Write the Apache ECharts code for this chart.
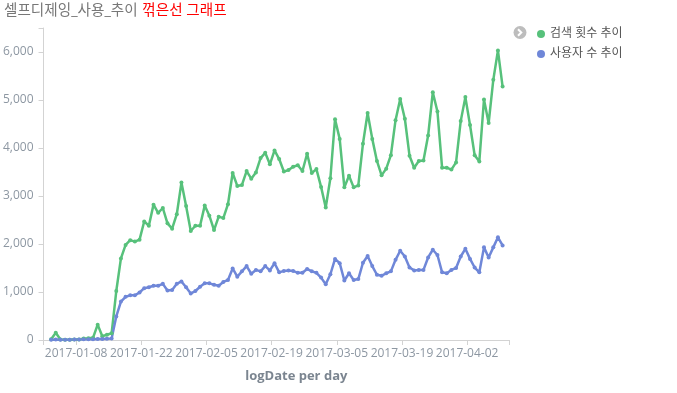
<!DOCTYPE html>
<html>
<head>
<meta charset="utf-8">
<script src="https://cdn.jsdelivr.net/npm/echarts@6/dist/echarts.min.js"></script>
<style>
html,body{margin:0;padding:0;background:#fff;}
#chart{width:677px;height:393px;}
</style>
</head>
<body>
<div id="chart"></div>
<script>
const FONT = '"Open Sans", "Noto Sans CJK KR", sans-serif';

const titleMain = '셀프디제잉_사용_추이';
const titleSub = '꺾은선 그래프';
const xAxisName = 'logDate per day';
const seriesNames = ['검색 횟수 추이', '사용자 수 추이'];
const seriesColors = ['#57c17b', '#6f87d8'];

const dates = [
  '2017-01-03','2017-01-04','2017-01-05','2017-01-06','2017-01-07','2017-01-08','2017-01-09','2017-01-10',
  '2017-01-11','2017-01-12','2017-01-13','2017-01-14','2017-01-15','2017-01-16','2017-01-17','2017-01-18',
  '2017-01-19','2017-01-20','2017-01-21','2017-01-22','2017-01-23','2017-01-24','2017-01-25','2017-01-26',
  '2017-01-27','2017-01-28','2017-01-29','2017-01-30','2017-01-31',
  '2017-02-01','2017-02-02','2017-02-03','2017-02-04','2017-02-05','2017-02-06','2017-02-07','2017-02-08',
  '2017-02-09','2017-02-10','2017-02-11','2017-02-12','2017-02-13','2017-02-14','2017-02-15','2017-02-16',
  '2017-02-17','2017-02-18','2017-02-19','2017-02-20','2017-02-21','2017-02-22','2017-02-23','2017-02-24',
  '2017-02-25','2017-02-26','2017-02-27','2017-02-28',
  '2017-03-01','2017-03-02','2017-03-03','2017-03-04','2017-03-05','2017-03-06','2017-03-07','2017-03-08',
  '2017-03-09','2017-03-10','2017-03-11','2017-03-12','2017-03-13','2017-03-14','2017-03-15','2017-03-16',
  '2017-03-17','2017-03-18','2017-03-19','2017-03-20','2017-03-21','2017-03-22','2017-03-23','2017-03-24',
  '2017-03-25','2017-03-26','2017-03-27','2017-03-28','2017-03-29','2017-03-30','2017-03-31',
  '2017-04-01','2017-04-02','2017-04-03','2017-04-04','2017-04-05','2017-04-06','2017-04-07','2017-04-08',
  '2017-04-09','2017-04-10'
];

const searchCounts = [
  15,150,10,5,5,10,10,30,35,45,320,80,110,140,
  1020,1700,1980,2080,2050,2090,2470,2380,2820,2650,2750,2430,2320,2620,3280,2790,2270,2380,2380,
  2800,2590,2290,2570,2540,2830,3480,3210,3230,3520,3360,3490,3790,3900,3660,3950,3770,3510,3540,
  3610,3640,3520,3880,3480,3560,3190,2760,3370,4600,4190,3180,3420,3180,3220,4090,4730,4190,3730,
  3430,3570,3850,4580,5020,4610,3840,3590,3730,3740,4260,5160,4760,3590,3590,3550,3700,4560,5060,
  4480,3850,3720,5010,4520,5420,6030,5280
];

const userCounts = [
  5,10,5,5,5,10,10,15,15,15,20,20,25,30,
  490,800,900,930,930,990,1080,1100,1130,1130,1170,1030,1040,1170,1220,1100,970,1020,1110,
  1180,1180,1150,1130,1210,1250,1490,1320,1430,1540,1380,1460,1430,1540,1450,1600,1410,1440,1450,
  1440,1400,1400,1480,1430,1400,1300,1160,1370,1690,1600,1240,1390,1250,1270,1610,1750,1540,1360,
  1340,1390,1430,1670,1860,1740,1510,1450,1460,1460,1720,1880,1770,1410,1390,1460,1500,1740,1900,
  1690,1510,1410,1930,1720,1930,2140,1970
];

const xTickLabels = ['2017-01-08','2017-01-22','2017-02-05','2017-02-19','2017-03-05','2017-03-19','2017-04-02'];
const xRange = ['2017-01-01','2017-04-11'];
const yTickValues = [0,1000,2000,3000,4000,5000,6000];
const yMax = 6500;

const KST_OFFSET = 9 * 3600000;
function utcMs(s){ const p = s.split('-').map(Number); return Date.UTC(p[0], p[1]-1, p[2]); }
function kstMs(s){ return utcMs(s) - KST_OFFSET; }
function fmtDate(v){
  const d = new Date(v);
  const m = String(d.getUTCMonth()+1).padStart(2,'0');
  const dd = String(d.getUTCDate()).padStart(2,'0');
  return d.getUTCFullYear() + '-' + m + '-' + dd;
}

const xMin = utcMs(xRange[0]);
const xMax = utcMs(xRange[1]);
const labelVals = xTickLabels.map(utcMs);

const chart = echarts.init(document.getElementById('chart'), null, {renderer: 'canvas'});
chart.setOption({
  animation: false,
  backgroundColor: '#fff',
  textStyle: { fontFamily: FONT },
  title: {
    text: '{a|' + titleMain + '} {b|' + titleSub + '}',
    left: -1,
    top: -3,
    textStyle: {
      rich: {
        a: { color: '#777', fontSize: 14.6, fontWeight: 'normal', fontFamily: FONT },
        b: { color: '#f00', fontSize: 14.6, fontWeight: 'normal', fontFamily: FONT }
      }
    }
  },
  legend: {
    orient: 'vertical',
    left: 532,
    top: 23,
    icon: 'circle',
    itemWidth: 8,
    itemHeight: 8,
    itemGap: 8,
    textStyle: { color: '#555', fontSize: 12, fontFamily: FONT },
    data: seriesNames
  },
  graphic: [
    { type: 'circle', shape: { cx: 520, cy: 32.5, r: 6.5 }, style: { fill: '#bdbdbd' } },
    { type: 'polyline', shape: { points: [[518, 29.2], [521.3, 32.5], [518, 35.8]] },
      style: { stroke: '#fff', lineWidth: 2, fill: null } }
  ],
  grid: { left: 43, right: 168, top: 28, bottom: 53, containLabel: false },
  xAxis: {
    type: 'value',
    min: xMin,
    max: xMax,
    name: xAxisName,
    nameLocation: 'middle',
    nameGap: 30,
    nameTextStyle: { color: '#7b8590', fontSize: 13, fontWeight: 'bold', fontFamily: FONT, padding: [0, 0, 0, 40] },
    axisLine: { show: true, lineStyle: { color: '#d3d3d3', width: 1 } },
    axisTick: { show: true, length: 5, lineStyle: { color: '#d3d3d3' }, customValues: [xMin].concat(labelVals, [xMax]) },
    axisLabel: { color: '#8d97a2', fontSize: 12, fontFamily: FONT, margin: 8, customValues: labelVals,
      formatter: function(v){ return fmtDate(v); } },
    splitLine: { show: false }
  },
  yAxis: {
    type: 'value',
    min: 0,
    max: yMax,
    axisLine: { show: true, lineStyle: { color: '#d3d3d3', width: 1 } },
    axisTick: { show: true, length: 5, lineStyle: { color: '#d3d3d3' }, customValues: yTickValues.concat([yMax]) },
    axisLabel: { color: '#8d97a2', fontSize: 12, fontFamily: FONT, margin: 10, customValues: yTickValues,
      formatter: function(v){ return v.toLocaleString('en-US'); } },
    splitLine: { show: false }
  },
  series: [
    {
      name: seriesNames[0], type: 'line',
      data: dates.map((d, i) => [kstMs(d), searchCounts[i]]),
      symbol: 'circle', symbolSize: 4, showSymbol: true,
      lineStyle: { color: seriesColors[0], width: 2.5 },
      itemStyle: { color: seriesColors[0] }
    },
    {
      name: seriesNames[1], type: 'line',
      data: dates.map((d, i) => [kstMs(d), userCounts[i]]),
      symbol: 'circle', symbolSize: 4, showSymbol: true,
      lineStyle: { color: seriesColors[1], width: 2.5 },
      itemStyle: { color: seriesColors[1] }
    }
  ]
});
</script>
</body>
</html>
